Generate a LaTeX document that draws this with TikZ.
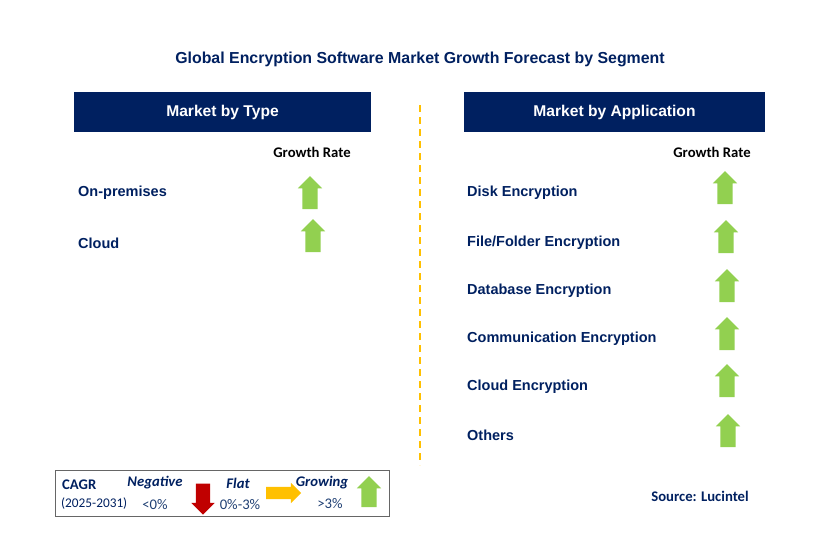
\documentclass[tikz,border=0pt]{standalone}
\usepackage{fontspec}
\setmainfont{Liberation Sans}
\newfontfamily\calfont{Carlito}
\usetikzlibrary{shapes.arrows}
\definecolor{navy}{HTML}{002060}
\definecolor{upgreen}{HTML}{92D050}
\definecolor{downred}{HTML}{C00000}
\definecolor{flatorange}{HTML}{FFC000}
\definecolor{legendblue}{HTML}{1F3F73}
\begin{document}
\begin{tikzpicture}[x=1pt,y=-1pt,
  header/.style={fill=navy,text=white,font=\fontsize{15.6}{17}\selectfont\bfseries,minimum width=297,minimum height=40,inner sep=0},
  item/.style={anchor=west,text=navy,font=\fontsize{14.5}{16}\selectfont\bfseries,inner sep=0},
  rate/.style={font=\calfont\fontsize{14.7}{16}\selectfont\bfseries,inner sep=0},
  uparrow/.style={single arrow,fill=upgreen,shape border rotate=90,minimum height=33,minimum width=24,single arrow head extend=4.5,inner sep=7.5},
  legend/.style={font=\calfont\fontsize{14.7}{16}\selectfont,text=legendblue,inner sep=0},
  legendhead/.style={font=\calfont\fontsize{14.7}{16}\selectfont\bfseries\itshape,text=navy,inner sep=0}]
\useasboundingbox (0,0) rectangle (829,544);
% title
\node[text=navy,font=\fontsize{15.9}{17}\selectfont\bfseries] (title) at (420,59) {Global Encryption Software Market Growth Forecast by Segment};
% headers
\node[header] (type) at (222.5,112) {\raisebox{-3pt}{Market by Type}};
\node[header,minimum width=301] (app) at (614.5,112) {\raisebox{-3pt}{Market by Application}};
% divider
\coordinate (divtop) at (420,105);
\coordinate (divbot) at (420,465);
\draw[flatorange,line width=1.5,dash pattern=on 7 off 5] (divtop)--(divbot);
% left panel
\node[rate] (rateL) at (312,152) {Growth Rate};
\node[item] (onprem) at (78,193) {On-premises};
\node[item] (cloud) at (78,243) {Cloud};
\node[uparrow] (upOnprem) at (310,196.5) {};
\node[uparrow] (upCloud) at (313,239.5) {};
% right panel
\node[rate] (rateR) at (712,152) {Growth Rate};
\node[item] (disk) at (467,193) {Disk Encryption};
\node[item] (file) at (467,243) {File/Folder Encryption};
\node[item] (db) at (467,291) {Database Encryption};
\node[item] (comm) at (467,339) {Communication Encryption};
\node[item] (cloudenc) at (467,387) {Cloud Encryption};
\node[item] (others) at (467,435) {Others};
\node[uparrow] (upDisk) at (725,191.5) {};
\node[uparrow] (upFile) at (726,240.5) {};
\node[uparrow] (upDb) at (727,289.5) {};
\node[uparrow] (upComm) at (727,337.5) {};
\node[uparrow] (upCloudenc) at (727,384.5) {};
\node[uparrow] (upOthers) at (728,434.5) {};
% legend
\node[draw=gray!80!black,line width=1,minimum width=334,minimum height=46,inner sep=0] (legendbox) at (222,493) {};
\node[font=\calfont\fontsize{14.7}{16}\selectfont\bfseries,text=navy,anchor=west,inner sep=0] (cagr) at (62,485) {CAGR};
\node[legend,anchor=west,text=navy,font=\calfont\fontsize{13.3}{15}\selectfont] (years) at (61,504) {(2025-2031)};
\node[legendhead] (neg) at (155,483) {Negative};
\node[legend] (negval) at (155,505) {<0\%};
\node[single arrow,fill=downred,shape border rotate=270,minimum height=31,minimum width=23,single arrow head extend=4.5,inner sep=7] (downArr) at (203,495.5) {};
\node[legendhead] (flat) at (238,483) {Flat};
\node[legend] (flatval) at (240,505) {0\%-3\%};
\node[single arrow,fill=flatorange,minimum height=35,minimum width=20,single arrow head extend=4,inner sep=6] (flatArr) at (280.5,493) {};
\node[legendhead] (grow) at (322,483) {Growing};
\node[legend] (growval) at (330,504) {>3\%};
\node[uparrow,minimum height=31] (growArr) at (369,495.5) {};
% source
\node[font=\calfont\fontsize{14.7}{16}\selectfont\bfseries,text=navy] (source) at (700,496) {Source: Lucintel};
\end{tikzpicture}
\end{document}
